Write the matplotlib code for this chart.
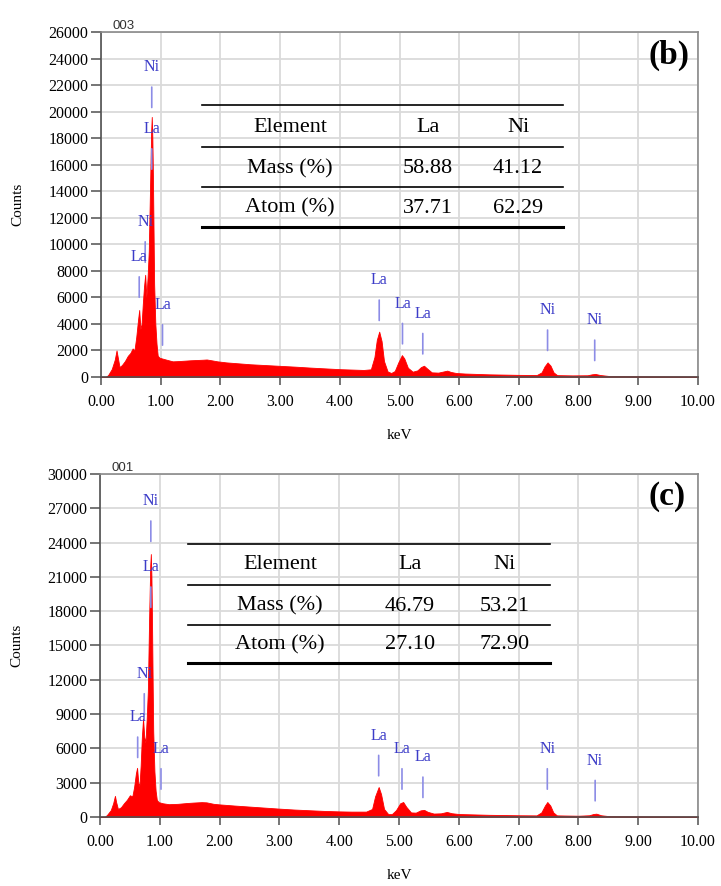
import numpy as np
import matplotlib.pyplot as plt

plt.rcParams['font.family'] = ['Liberation Serif', 'DejaVu Serif']

# spectrum (b), sample 003: energy keV, counts
e_b = [0.00, 0.08, 0.12, 0.18, 0.23, 0.26, 0.28, 0.31, 0.35, 0.40, 0.45, 0.49, 0.53, 0.56,
       0.59, 0.62, 0.64, 0.66, 0.68, 0.70, 0.72, 0.74, 0.76, 0.78, 0.80, 0.82, 0.84, 0.85,
       0.86, 0.87, 0.88, 0.89, 0.91, 0.93, 0.95, 0.98, 1.02, 1.10, 1.20, 1.30, 1.40, 1.50,
       1.60, 1.70, 1.77, 1.85, 1.95, 2.10, 2.30, 2.50, 2.75, 3.00, 3.25, 3.50, 3.75, 4.00,
       4.20, 4.40, 4.52, 4.58, 4.62, 4.66, 4.70, 4.74, 4.80, 4.86, 4.92, 4.98, 5.04, 5.08,
       5.14, 5.22, 5.30, 5.36, 5.41, 5.46, 5.54, 5.65, 5.75, 5.80, 5.86, 5.95, 6.10, 6.50,
       7.00, 7.30, 7.38, 7.43, 7.48, 7.53, 7.58, 7.64, 7.90, 8.15, 8.22, 8.28, 8.36, 8.50,
       9.00, 10.00]
c_b = [0, 0, 150, 600, 1300, 2000, 1500, 750, 900, 1200, 1600, 1800, 2150, 2000,
       3000, 4300, 5050, 3600, 4000, 5500, 6800, 7700, 6000, 7500, 9500, 14000, 18500, 19600,
       18000, 15000, 11000, 7000, 4000, 2500, 1600, 1450, 1400, 1300, 1180, 1200, 1230, 1260,
       1280, 1300, 1320, 1260, 1180, 1100, 1030, 960, 900, 840, 780, 710, 650, 590,
       560, 530, 580, 1500, 2800, 3420, 2700, 1200, 420, 300, 450, 1100, 1650, 1400,
       700, 400, 500, 750, 850, 650, 350, 330, 430, 480, 380, 300, 260, 200,
       160, 150, 350, 800, 1100, 850, 350, 140, 120, 130, 200, 230, 150, 80,
       60, 40]

# spectrum (c), sample 001
e_c = [0.00, 0.08, 0.12, 0.18, 0.22, 0.25, 0.27, 0.30, 0.35, 0.40, 0.45, 0.50, 0.54, 0.57,
       0.60, 0.62, 0.64, 0.66, 0.68, 0.70, 0.72, 0.74, 0.76, 0.78, 0.80, 0.82, 0.84, 0.85,
       0.86, 0.87, 0.88, 0.89, 0.91, 0.93, 0.95, 0.98, 1.05, 1.15, 1.30, 1.45, 1.56, 1.70,
       1.78, 1.90, 2.00, 2.25, 2.50, 2.75, 3.00, 3.25, 3.50, 3.75, 4.00, 4.20, 4.45, 4.55,
       4.60, 4.66, 4.70, 4.75, 4.82, 4.88, 4.95, 5.02, 5.07, 5.12, 5.20, 5.28, 5.36, 5.42,
       5.48, 5.58, 5.70, 5.80, 5.88, 6.00, 6.50, 7.00, 7.30, 7.38, 7.44, 7.48, 7.53, 7.58,
       7.64, 8.00, 8.18, 8.25, 8.30, 8.38, 8.50, 9.00, 10.00]
c_c = [0, 0, 200, 600, 1200, 1850, 1300, 700, 850, 1200, 1500, 1900, 1800, 2600,
       3800, 4300, 3000, 2700, 4500, 7000, 8600, 7000, 6500, 8500, 11000, 17000, 22000, 23000,
       21000, 17000, 12000, 7500, 4000, 2300, 1500, 1300, 1200, 1120, 1150, 1220, 1260, 1300,
       1280, 1150, 1100, 1000, 910, 820, 730, 650, 590, 530, 490, 470, 470, 700,
       1800, 2620, 2000, 700, 250, 250, 600, 1200, 1310, 900, 400, 380, 580, 620,
       450, 300, 320, 440, 330, 260, 190, 150, 140, 400, 1000, 1310, 1000, 400,
       140, 110, 150, 260, 290, 150, 80, 60, 40]

# peak markers: energy, count at foot of marker line, element
mark_b = [(0.85, 20100, 'Ni'), (0.85, 15450, 'La'), (0.74, 8440, 'Ni'), (0.64, 5800, 'La'),
          (1.03, 2190, 'La'), (4.66, 4050, 'La'), (5.05, 2290, 'La'), (5.39, 1530, 'La'),
          (7.48, 1790, 'Ni'), (8.27, 1030, 'Ni')]
mark_c = [(0.85, 23860, 'Ni'), (0.85, 18090, 'La'), (0.74, 8750, 'Ni'), (0.63, 4960, 'La'),
          (1.02, 2190, 'La'), (4.66, 3360, 'La'), (5.05, 2190, 'La'), (5.40, 1460, 'La'),
          (7.48, 2190, 'Ni'), (8.28, 1170, 'Ni')]

elements = ['La', 'Ni']
comp_b = {'Mass (%)': ['58.88', '41.12'], 'Atom (%)': ['37.71', '62.29']}
comp_c = {'Mass (%)': ['46.79', '53.21'], 'Atom (%)': ['27.10', '72.90']}


def panel(ax, e, c, marks, ymax, ystep, tag, sample, comp, tab):
    ax.fill_between(e, c, 0, color='#ff0000', lw=0.6, edgecolor='#ff0000', zorder=2)
    ax.set_xlim(0, 10)
    ax.set_ylim(0, ymax)
    ax.set_xticks(np.arange(0, 10.01, 1))
    ax.set_xticklabels(['%.2f' % v for v in np.arange(0, 10.01, 1)])
    ax.set_yticks(np.arange(0, ymax + 1, ystep))
    ax.grid(color='#dadada', lw=1.3, zorder=0)
    ax.set_axisbelow(True)
    for s in ['top', 'right']:
        ax.spines[s].set_color('#8a8a8a')
    for s in ['left', 'bottom']:
        ax.spines[s].set_color('#505050')
    for s in ax.spines.values():
        s.set_linewidth(1.2)
    ax.tick_params(axis='y', length=7, width=1.1, color='#505050', pad=2, labelsize=11.5)
    ax.tick_params(axis='x', length=6, width=1.1, color='#505050', pad=6, labelsize=11.5)
    ax.set_xlabel('keV', fontsize=11, labelpad=14)
    ax.set_ylabel('Counts', fontsize=11)
    ax.yaxis.set_label_coords(-0.128, 0.5)

    for en, base, el in marks:
        ax.annotate('', xy=(en, base), xytext=(0, 18.7), textcoords='offset points',
                    xycoords='data', arrowprops=dict(arrowstyle='-', color='#8c8ce6', lw=1.2),
                    zorder=4)
        ax.annotate(el, xy=(en, base), xytext=(0, 31), textcoords='offset points',
                    ha='center', va='center', color='#3c3cc8', fontsize=11.5, zorder=5)

    ax.text(0.02, 1.0, sample, transform=ax.transAxes, ha='left', va='bottom',
            fontsize=9.5, family=['Liberation Sans', 'DejaVu Sans'], color='#333333')
    ax.text(tag[1], tag[2], tag[0], transform=ax.transAxes, ha='center', va='center',
            fontsize=24, fontweight='bold')

    x0, x1, ylines, xcols, yrows = tab
    for i, yl in enumerate(ylines):
        ax.plot([x0, x1], [yl, yl], transform=ax.transAxes, color='black',
                lw=2.2 if i == len(ylines) - 1 else 1.2, zorder=6, clip_on=False)
    rows = [['Element'] + elements] + [[k] + v for k, v in comp.items()]
    for r, row in enumerate(rows):
        for j, txt in enumerate(row):
            ax.text(xcols[j], yrows[r], txt, transform=ax.transAxes, ha='center',
                    va='center', fontsize=16, zorder=6)


fig = plt.figure(figsize=(7.21, 8.86), dpi=100)
ax1 = fig.add_axes([0.1401, 0.5745, 0.828, 0.3894])
ax2 = fig.add_axes([0.1387, 0.0779, 0.8294, 0.3871])

panel(ax1, e_b, c_b, mark_b, 26000, 2000, ('(b)', 0.951, 0.931), '003', comp_b,
      (0.1687, 0.7734, [0.788, 0.6675, 0.5516, 0.4357],
       [0.3166, 0.5477, 0.6985], [0.7238, 0.6029, 0.489]))
panel(ax2, e_c, c_c, mark_c, 30000, 3000, ('(c)', 0.948, 0.933), '001', comp_c,
      (0.147, 0.7525, [0.796, 0.676, 0.560, 0.449],
       [0.301, 0.518, 0.677], [0.7376, 0.615, 0.5015]))

fig.savefig('out.png', dpi=100)
